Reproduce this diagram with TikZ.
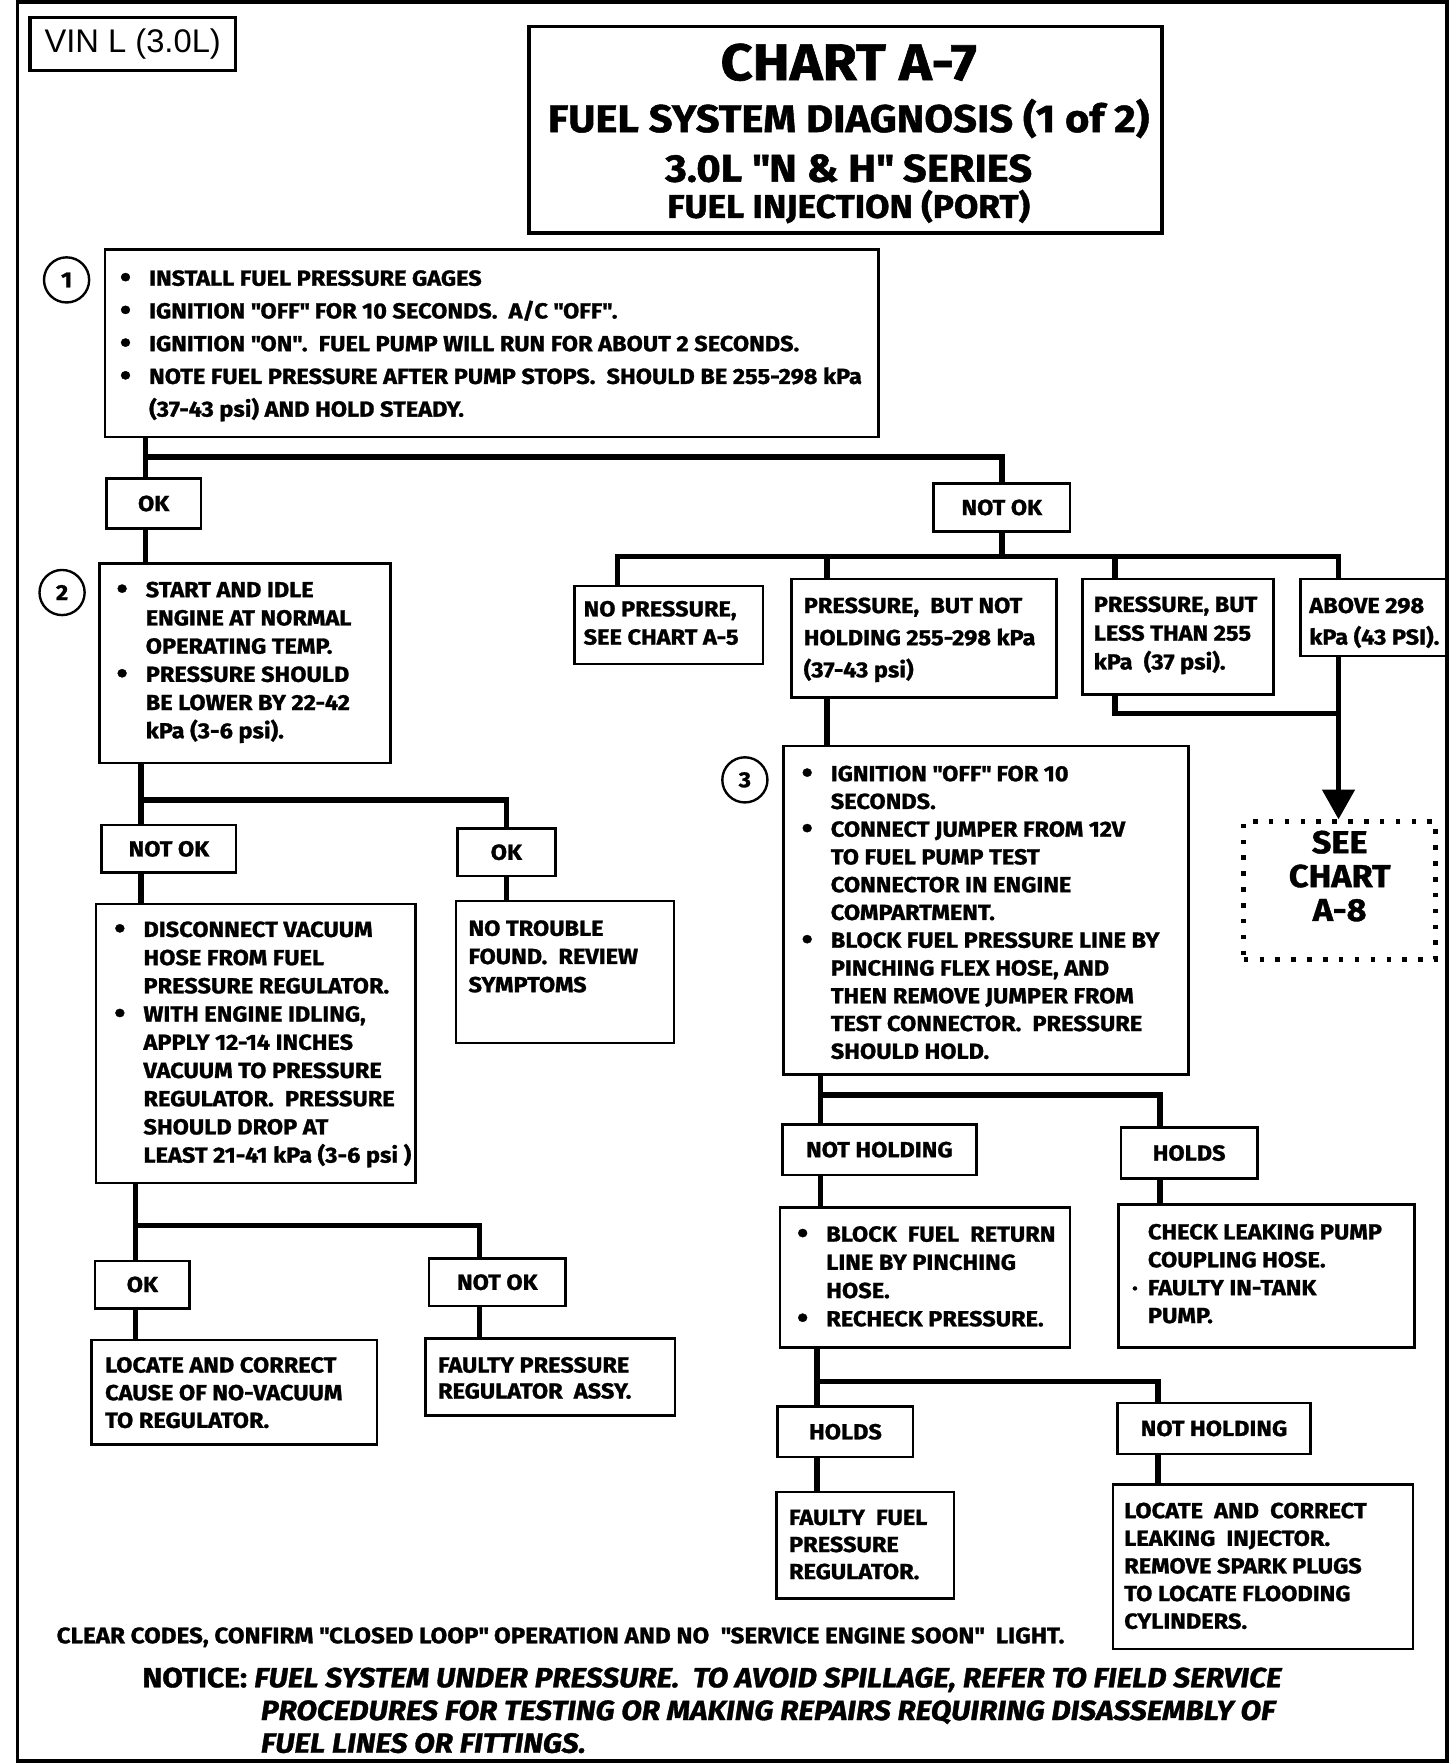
\documentclass[tikz,border=0pt]{standalone}
\usepackage{fontspec}
\setmainfont{Fira Sans}[FakeStretch=1.08, BoldFeatures={FakeBold=1.2}, BoldItalicFeatures={FakeBold=1.2}]
\newfontfamily\vinfont{Liberation Sans}
\usetikzlibrary{arrows.meta}

% one pixel of the chart grid
\newlength{\dpx}\setlength{\dpx}{0.02cm}
% box contents: [line skip]{width}{height}{left pad}{first line centre}{text}
\newcommand{\boxtext}[6][25]{\parbox[c][#3\dpx][t]{#2\dpx}{\raggedright\leftskip=#4\dpx\relax
  \rightskip=-40\dpx plus 1fil\relax
  \baselineskip=#1\dpx\relax\vspace*{\dimexpr#5\dpx-10\dpx\relax}\rule{0pt}{17\dpx}#6}}
\newcommand{\bul}{\leavevmode\llap{\raisebox{-0.8pt}{\fontsize{15}{15}\selectfont\textbullet}\hspace{16\dpx}}}
\newcommand{\dotmark}{\leavevmode\llap{\textperiodcentered\hspace{9\dpx}}}
\newcommand{\q}{\textquotedbl}

\begin{document}
\begin{tikzpicture}[x=0.02cm, y=-0.02cm,
  font=\bfseries\fontsize{11}{14.2}\selectfont,
  box/.style={draw, line width=1.3pt, inner sep=0pt, anchor=north west},
  tag/.style={box, align=center},
  conn/.style={line width=2.8pt},
  num/.style={circle, draw, line width=1.2pt, minimum size=40*\dpx, inner sep=0pt}]
  \useasboundingbox (0,0) rectangle (1290,1563);
  \draw[line width=2pt] (15.5,1.8) rectangle (1282,1560);

  % heading
  \node[draw, line width=1.8pt, inner sep=0pt, anchor=north west, minimum width=182*\dpx,
    minimum height=47*\dpx, font=\vinfont\fontsize{16.5}{20}\selectfont] (vin) at (25,14) {VIN L (3.0L)};
  \node[draw, line width=1.8pt, anchor=north west, minimum width=561*\dpx, minimum height=183*\dpx] (title) at (467,22) {};
  \node[anchor=base, font=\bfseries\fontsize{26}{30}\selectfont] (title-a) at (752,71) {CHART A-7};
  \node[anchor=base, font=\bfseries\fontsize{19.5}{24}\selectfont] (title-b) at (752,117) {FUEL SYSTEM DIAGNOSIS (1 of 2)};
  \node[anchor=base, font=\bfseries\fontsize{19.5}{24}\selectfont] (title-c) at (752,161) {3.0L \q N \& H\q\ SERIES};
  \node[anchor=base, font=\bfseries\fontsize{16.5}{20}\selectfont] (title-d) at (752,193) {FUEL INJECTION (PORT)};

  % step 1
  \node[num] (n1) at (59,248) {1};
  \node[box] (step1) at (92,220) {\boxtext[29]{685}{166}{39}{25}{%
    \bul INSTALL FUEL PRESSURE GAGES\\
    \bul IGNITION \q OFF\q\ FOR 10 SECONDS.~ A/C \q OFF\q .\\
    \bul IGNITION \q ON\q .~ FUEL PUMP WILL RUN FOR ABOUT 2 SECONDS.\\
    \bul NOTE FUEL PRESSURE AFTER PUMP STOPS.~ SHOULD BE 255-298 kPa\\
    (37-43 psi) AND HOLD STEADY.}};
  \node[tag, minimum width=84*\dpx, minimum height=44*\dpx] (okA) at (93,423) {OK};
  \node[tag, minimum width=121*\dpx, minimum height=43*\dpx] (notokA) at (826,427) {NOT OK};

  % step 2 (left side)
  \node[num] (n2) at (55,525) {2};
  \node[box] (step2) at (87,498) {\boxtext{258}{177}{41}{23}{%
    \bul START AND IDLE\\
    ENGINE AT NORMAL\\
    OPERATING TEMP.\\
    \bul PRESSURE SHOULD\\
    BE LOWER BY 22-42\\
    kPa (3-6 psi).}};
  \node[tag, minimum width=119*\dpx, minimum height=42*\dpx] (notokB) at (89,730) {NOT OK};
  \node[tag, minimum width=87*\dpx, minimum height=42*\dpx] (okB) at (404,733) {OK};
  \node[box] (vacuum) at (84,800) {\boxtext{283}{247}{42}{22}{%
    \bul DISCONNECT VACUUM\\
    HOSE FROM FUEL\\
    PRESSURE REGULATOR.\\
    \bul WITH ENGINE IDLING,\\
    APPLY 12-14 INCHES\\
    VACUUM TO PRESSURE\\
    REGULATOR.~ PRESSURE\\
    SHOULD DROP AT\\
    LEAST 21-41 kPa (3-6 psi )}};
  \node[box] (notrouble) at (403,797) {\boxtext{193}{126}{11}{24}{%
    NO TROUBLE\\
    FOUND.~ REVIEW\\
    SYMPTOMS}};
  \node[tag, minimum width=84*\dpx, minimum height=42*\dpx] (okC) at (83,1116) {OK};
  \node[tag, minimum width=121*\dpx, minimum height=42*\dpx] (notokC) at (379,1114) {NOT OK};
  \node[box] (novac) at (80,1186) {\boxtext[24.5]{253}{93}{12}{22}{%
    LOCATE AND CORRECT\\
    CAUSE OF NO-VACUUM\\
    TO REGULATOR.}};
  \node[box] (faultyassy) at (376,1185) {\boxtext[23]{221}{68}{11}{23}{%
    FAULTY PRESSURE\\
    REGULATOR~ ASSY.}};

  % pressure cases (right side)
  \node[box] (nopress) at (508,518) {\boxtext{167}{69}{8}{20}{%
    NO PRESSURE,\\
    SEE CHART A-5}};
  \node[box] (notholdA) at (700,512) {\boxtext[28.5]{235}{105}{11}{23}{%
    PRESSURE,~ BUT NOT\\
    HOLDING 255-298 kPa\\
    (37-43 psi)}};
  \node[box] (lessA) at (958,512) {\boxtext[25.5]{169}{102}{10}{22}{%
    PRESSURE, BUT\\
    LESS THAN 255\\
    kPa~ (37 psi).}};
  \node[box] (aboveA) at (1151,512) {\boxtext[28]{131}{68}{8}{23}{%
    ABOVE 298\\
    kPa (43 PSI).}};
  \node[box, line width=2.3pt, dash pattern=on 2.3pt off 5.7pt,
    font=\bfseries\fontsize{16}{17}\selectfont] (seeA8) at (1100,726) {\boxtext[30]{170}{122}{0}{18}{%
    \centering SEE\\
    CHART\\
    A-8}};

  % step 3
  \node[num] (n3) at (660,691) {3};
  \node[box] (step3) at (693,660) {\boxtext[24.6]{359}{291}{42}{24}{%
    \bul IGNITION \q OFF\q\ FOR 10\\
    SECONDS.\\
    \bul CONNECT JUMPER FROM 12V\\
    TO FUEL PUMP TEST\\
    CONNECTOR IN ENGINE\\
    COMPARTMENT.\\
    \bul BLOCK FUEL PRESSURE LINE BY\\
    PINCHING FLEX HOSE, AND\\
    THEN REMOVE JUMPER FROM\\
    TEST CONNECTOR.~ PRESSURE\\
    SHOULD HOLD.}};
  \node[tag, minimum width=172*\dpx, minimum height=45*\dpx] (notholdB) at (692,995) {NOT HOLDING};
  \node[tag, minimum width=121*\dpx, minimum height=45*\dpx] (holdsB) at (992,998) {HOLDS};
  \node[box] (blockret) at (690,1069) {\boxtext{257}{124}{41}{23}{%
    \bul BLOCK~ FUEL~ RETURN\\
    LINE BY PINCHING\\
    HOSE.\\
    \bul RECHECK PRESSURE.}};
  \node[box] (checkpump) at (990,1066) {\boxtext[24.7]{262}{127}{26}{24}{%
    CHECK LEAKING PUMP\\
    COUPLING HOSE.\\
    \dotmark FAULTY IN-TANK\\
    PUMP.}};
  \node[tag, minimum width=120*\dpx, minimum height=45*\dpx] (holdsC) at (688,1245) {HOLDS};
  \node[tag, minimum width=171*\dpx, minimum height=45*\dpx] (notholdC) at (989,1242) {NOT HOLDING};
  \node[box] (faultyreg) at (687,1321) {\boxtext[24]{157}{94}{11}{22}{%
    FAULTY~ FUEL\\
    PRESSURE\\
    REGULATOR.}};
  \node[box] (leakinj) at (985,1314) {\boxtext[24.5]{266}{146}{10}{23}{%
    LOCATE~ AND~ CORRECT\\
    LEAKING~ INJECTOR.\\
    REMOVE SPARK PLUGS\\
    TO LOCATE FLOODING\\
    CYLINDERS.}};

  % connectors
  \coordinate (j1) at (129,405);
  \draw[conn] (j1 |- step1.south) -- (j1 |- okA.north);
  \draw[conn] (j1) -| (notokA.north);
  \draw[conn] (j1 |- okA.south) -- (j1 |- step2.north);
  \coordinate (t1) at (547,493);
  \coordinate (t2) at (733,493);
  \coordinate (t3) at (988,493);
  \coordinate (t4) at (1186,493);
  \coordinate (t5) at (988,632);
  \draw[conn] (notokA.south) -- (notokA.south |- t1);
  \draw[conn] (t1 |- nopress.north) -- (t1) -- (t4) -- (t4 |- aboveA.north);
  \draw[conn] (t2) -- (t2 |- notholdA.north);
  \draw[conn] (t3) -- (t3 |- lessA.north);
  \draw[conn] (t3 |- lessA.south) -- (t5) -- (t5 -| t4);
  \draw[conn, -{Triangle[length=15pt, width=16pt]}] (t4 |- aboveA.south) -- (t4 |- seeA8.north);
  \draw[conn] (t2 |- notholdA.south) -- (t2 |- step3.north);
  \coordinate (j3) at (727,970);
  \coordinate (j3r) at (1028,970);
  \draw[conn] (j3 |- step3.south) -- (j3 |- notholdB.north);
  \draw[conn] (j3) -- (j3r) -- (j3r |- holdsB.north);
  \draw[conn] (j3 |- notholdB.south) -- (j3 |- blockret.north);
  \draw[conn] (j3r |- holdsB.south) -- (j3r |- checkpump.north);
  \coordinate (j4) at (724,1224);
  \coordinate (j4r) at (1026,1224);
  \draw[conn] (j4 |- blockret.south) -- (j4 |- holdsC.north);
  \draw[conn] (j4) -- (j4r) -- (j4r |- notholdC.north);
  \draw[conn] (j4 |- holdsC.south) -- (j4 |- faultyreg.north);
  \draw[conn] (j4r |- notholdC.south) -- (j4r |- leakinj.north);
  \coordinate (j5) at (125,709);
  \draw[conn] (j5 |- step2.south) -- (j5 |- notokB.north);
  \draw[conn] (j5) -| (okB.north);
  \draw[conn] (j5 |- notokB.south) -- (j5 |- vacuum.north);
  \draw[conn] (okB.south) -- (okB.south |- notrouble.north);
  \coordinate (j6) at (120,1086);
  \coordinate (j6r) at (425,1086);
  \draw[conn] (j6 |- vacuum.south) -- (j6 |- okC.north);
  \draw[conn] (j6) -- (j6r) -- (j6r |- notokC.north);
  \draw[conn] (j6 |- okC.south) -- (j6 |- novac.north);
  \draw[conn] (j6r |- notokC.south) -- (j6r |- faultyassy.north);

  % footer
  \node[anchor=base west, font=\bfseries\fontsize{11.3}{13}\selectfont] (clear) at (44,1456)
    {CLEAR CODES, CONFIRM \q CLOSED LOOP\q\ OPERATION AND NO~ \q SERVICE ENGINE SOON\q~ LIGHT.};
  \node[anchor=base west, font=\bfseries\fontsize{14}{17}\selectfont] (notice-a) at (120,1495)
    {NOTICE: \textit{FUEL SYSTEM UNDER PRESSURE.~ TO AVOID SPILLAGE, REFER TO FIELD SERVICE}};
  \node[anchor=base west, font=\bfseries\itshape\fontsize{14}{17}\selectfont] (notice-b) at (225,1524)
    {PROCEDURES FOR TESTING OR MAKING REPAIRS REQUIRING DISASSEMBLY OF};
  \node[anchor=base west, font=\bfseries\itshape\fontsize{14}{17}\selectfont] (notice-c) at (225,1553)
    {FUEL LINES OR FITTINGS.};
\end{tikzpicture}
\end{document}
